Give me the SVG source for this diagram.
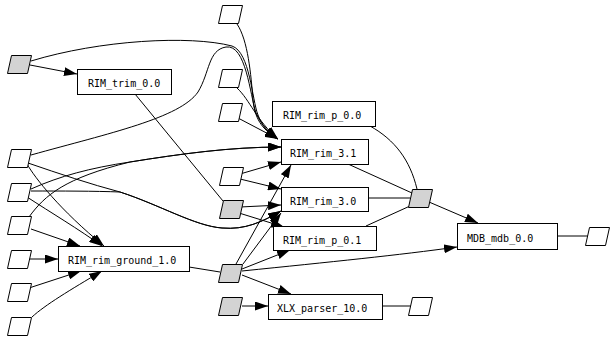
<svg xmlns="http://www.w3.org/2000/svg" width="613" height="340" viewBox="0 0 613 340">
<style>
.b{fill:#fff;stroke:#000;stroke-width:1}
.d{fill:#fff;stroke:#000;stroke-width:1}
.g{fill:#d3d3d3;stroke:#000;stroke-width:1}
.t{font-family:"DejaVu Sans Mono","Liberation Mono",monospace;font-size:10px;fill:#000}
.e{fill:none;stroke:#000;stroke-width:1}
.e.a{marker-end:url(#ah)}
</style>
<defs>
<marker id="ah" markerWidth="13" markerHeight="9" refX="13" refY="4.5" orient="auto" markerUnits="userSpaceOnUse"><path d="M0,0 L13,4.5 L0,9 z" fill="#000"/></marker>
</defs>
<rect width="613" height="340" fill="#fff"/>
<g id="connectors">
<path class="e a" d="M30,65 L77,74"/>
<path class="e a" d="M31,61 C100,40 190,35 232,46 C250,52 252,100 258,115 C262,126 268,132 278,139"/>
<path class="e a" d="M31,155 C110,133 180,118 198,92 C210,72 208,50 226,47 C246,44 250,95 256,113 C262,126 268,132 278,139"/>
<path class="e a" d="M237,24 C248,40 251,75 253,100 C255,122 265,131 278,139"/>
<path class="e a" d="M237,88 C250,100 256,120 278,139"/>
<path class="e a" d="M238,118 L278,139"/>
<path class="e a" d="M31,189 C60,176 90,168 130,162 C180,154 230,147 281,147"/>
<path class="e a" d="M29,217 C45,195 65,178 130,162 C180,154 230,147 281,147"/>
<path class="e a" d="M240,174 L281,162"/>
<path class="e a" d="M236,264 L291,165"/>
<path class="e a" d="M28,163 C60,174 90,184 120,192 C160,205 195,226 222,228 C245,230 262,222 281,211"/>
<path class="e a" d="M31,191 C60,191 95,191 120,192 C160,205 195,226 222,228 C245,230 262,222 281,211"/>
<path class="e a" d="M240,179 L281,189"/>
<path class="e a" d="M240,207 L281,205"/>
<path class="e a" d="M243,264 L281,213"/>
<path class="e a" d="M239,213 L284,227"/>
<path class="e a" d="M242,269 L290,250"/>
<path class="e a" d="M27,164 C35,178 60,210 104,246"/>
<path class="e a" d="M27,197 C50,212 80,230 102,246"/>
<path class="e a" d="M31,229 L80,246"/>
<path class="e a" d="M27,259 L58,259"/>
<path class="e a" d="M29,288 L81,271"/>
<path class="e a" d="M32,317 C45,305 70,290 102,271"/>
<path class="e a" d="M242,275 L291,294"/>
<path class="e a" d="M242,306 L268,306"/>
<path class="e a" d="M242,271 C330,262 400,255 457,247"/>
<path class="e a" d="M429,202 L478,223"/>
<path class="e" d="M135,94 L223,201"/>
<path class="e" d="M189,267 L220,272"/>
<path class="e" d="M370,126 C395,140 410,160 417,189"/>
<path class="e" d="M348,164 L412,193"/>
<path class="e" d="M368,198 L410,198"/>
<path class="e" d="M366,226 L410,206"/>
<path class="e" d="M382,306 L411,306"/>
<path class="e" d="M557,236 L588,236"/>
</g>
<g id="RIM_trim_0.0"><rect class="b" x="77.5" y="69.5" width="94" height="25"/><text class="t" x="88" y="87">RIM_trim_0.0</text></g>
<g id="RIM_rim_p_0.0"><rect class="b" x="272.5" y="101.5" width="103" height="25"/><text class="t" x="283" y="119">RIM_rim_p_0.0</text></g>
<g id="RIM_rim_3.1"><rect class="b" x="281.5" y="139.5" width="87" height="25"/><text class="t" x="290" y="157">RIM_rim_3.1</text></g>
<g id="RIM_rim_3.0"><rect class="b" x="281.5" y="187.5" width="87" height="24"/><text class="t" x="290" y="205">RIM_rim_3.0</text></g>
<g id="RIM_rim_p_0.1"><rect class="b" x="273.5" y="226.5" width="103" height="24"/><text class="t" x="283" y="244">RIM_rim_p_0.1</text></g>
<g id="RIM_rim_ground_1.0"><rect class="b" x="58.5" y="246.5" width="131" height="25"/><text class="t" x="68" y="264">RIM_rim_ground_1.0</text></g>
<g id="XLX_parser_10.0"><rect class="b" x="268.5" y="294.5" width="114" height="25"/><text class="t" x="277" y="312">XLX_parser_10.0</text></g>
<g id="MDB_mdb_0.0"><rect class="b" x="457.5" y="223.5" width="100" height="26"/><text class="t" x="467" y="242">MDB_mdb_0.0</text></g>
<g id="g1"><polygon class="g" points="11.5,55.5 31.5,55.5 27.5,73.5 7.5,73.5"/></g>
<g id="n1"><polygon class="d" points="11.5,149.5 31.5,149.5 27.5,167.5 7.5,167.5"/></g>
<g id="n2"><polygon class="d" points="11.5,183.5 31.5,183.5 27.5,201.5 7.5,201.5"/></g>
<g id="n3"><polygon class="d" points="11.5,216.5 31.5,216.5 27.5,234.5 7.5,234.5"/></g>
<g id="n4"><polygon class="d" points="11.5,250.5 31.5,250.5 27.5,268.5 7.5,268.5"/></g>
<g id="n5"><polygon class="d" points="11.5,283.5 31.5,283.5 27.5,301.5 7.5,301.5"/></g>
<g id="n6"><polygon class="d" points="11.5,317.5 31.5,317.5 27.5,335.5 7.5,335.5"/></g>
<g id="t1"><polygon class="d" points="222.5,5.5 242.5,5.5 238.5,23.5 218.5,23.5"/></g>
<g id="t2"><polygon class="d" points="222.5,69.5 242.5,69.5 238.5,87.5 218.5,87.5"/></g>
<g id="t3"><polygon class="d" points="222.5,103.5 242.5,103.5 238.5,121.5 218.5,121.5"/></g>
<g id="t4"><polygon class="d" points="223.5,167.5 243.5,167.5 239.5,185.5 219.5,185.5"/></g>
<g id="g2"><polygon class="g" points="223.5,200.5 243.5,200.5 239.5,218.5 219.5,218.5"/></g>
<g id="g3"><polygon class="g" points="222.5,264.5 242.5,264.5 238.5,282.5 218.5,282.5"/></g>
<g id="g4"><polygon class="g" points="222.5,297.5 242.5,297.5 238.5,315.5 218.5,315.5"/></g>
<g id="g5"><polygon class="g" points="412.5,189.5 432.5,189.5 428.5,207.5 408.5,207.5"/></g>
<g id="out2"><polygon class="d" points="412.5,297.5 432.5,297.5 428.5,315.5 408.5,315.5"/></g>
<g id="out1"><polygon class="d" points="589.5,227.5 609.5,227.5 605.5,245.5 585.5,245.5"/></g>
</svg>
